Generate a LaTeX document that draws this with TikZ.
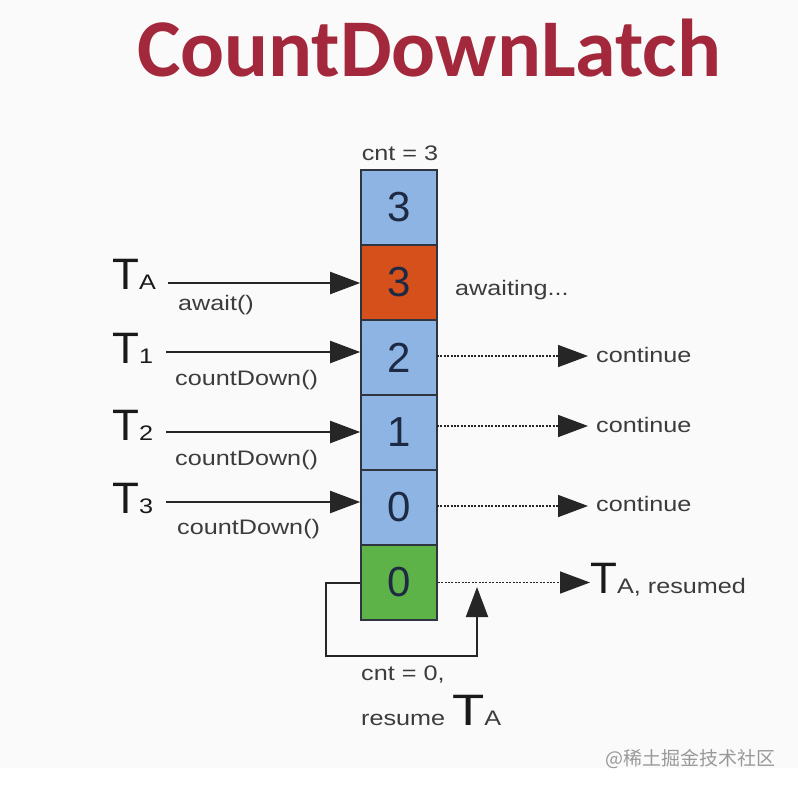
\documentclass[tikz,border=0pt]{standalone}
\usepackage{fontspec}
\setmainfont{Liberation Sans}
\newfontfamily\labfont[FakeStretch=1.2]{Liberation Sans}
\newfontfamily\titlefont{Carlito}
\newfontfamily\cjkfont{Noto Sans CJK SC}
\usetikzlibrary{arrows.meta}
\definecolor{titlered}{HTML}{A3283C}
\definecolor{cellblue}{HTML}{8DB4E2}
\definecolor{cellorange}{HTML}{D5501A}
\definecolor{cellgreen}{HTML}{5DB348}
\definecolor{digitcol}{HTML}{1E2A44}
\definecolor{labcol}{HTML}{3C3C3C}
\definecolor{bordercol}{HTML}{2E3440}
\tikzset{
  cell/.style={draw=bordercol, line width=1.6pt, minimum width=76pt, minimum height=75pt, inner sep=0pt,
    font=\fontsize{42}{42}\selectfont, text=digitcol},
  lab/.style={anchor=base west, inner sep=0pt, text=labcol, font=\labfont\fontsize{21}{21}\selectfont},
  tname/.style={anchor=base west, inner sep=0pt, text=black!90},
  solidarrow/.style={line width=2pt, draw=black!85, -{Triangle[length=30pt,width=22pt]}},
  dotarrow/.style={line width=1.6pt, draw=black!85, dash pattern=on 2pt off 1.4pt, -{Triangle[length=30pt,width=22pt]}},
}
\newcommand{\Tsub}[1]{{\fontsize{44}{44}\selectfont T}{\labfont\fontsize{21}{21}\selectfont #1}}
\begin{document}
\begin{tikzpicture}[x=1pt,y=-1pt]
\useasboundingbox (0,0) rectangle (798,790);
\fill[white] (0,0) rectangle (798,790);
\fill[black!2] (0,0) rectangle (798,768);
% title
\node[inner sep=0pt, anchor=base, text=titlered, font=\titlefont\bfseries\fontsize{82}{82}\selectfont] (title) at (429,76) {CountDownLatch};
% cells
\node[cell, fill=cellblue] (c1) at (399,207.5) {3};
\node[cell, fill=cellorange] (c2) at (399,282.5) {3};
\node[cell, fill=cellblue] (c3) at (399,357.5) {2};
\node[cell, fill=cellblue] (c4) at (399,432.5) {1};
\node[cell, fill=cellblue] (c5) at (399,507.5) {0};
\node[cell, fill=cellgreen] (c6) at (399,582.5) {0};
\node[lab, anchor=base] (cnt3) at (400,160) {cnt = 3};
% threads
\node[tname] (ta) at (112,289) {\Tsub{A}};
\node[tname] (t1) at (112,363) {\Tsub{1}};
\node[tname] (t2) at (112,440) {\Tsub{2}};
\node[tname] (t3) at (112,513) {\Tsub{3}};
\node[lab] (await) at (178,310) {await()};
\node[lab] (cd1) at (175,385) {countDown()};
\node[lab] (cd2) at (175,465) {countDown()};
\node[lab] (cd3) at (177,534) {countDown()};
\coordinate (sa) at (168,283);
\coordinate (s1) at (166,352);
\coordinate (s2) at (166,432);
\coordinate (s3) at (166,502);
\draw[solidarrow] (sa) -- (sa -| c2.west);
\draw[solidarrow] (s1) -- (s1 -| c3.west);
\draw[solidarrow] (s2) -- (s2 -| c4.west);
\draw[solidarrow] (s3) -- (s3 -| c5.west);
% right side
\node[lab] (awaiting) at (455,295) {awaiting...};
\node[lab] (cont1) at (596,362) {continue};
\node[lab] (cont2) at (596,432) {continue};
\node[lab] (cont3) at (596,511) {continue};
\coordinate (r1) at (437,356);
\coordinate (r2) at (437,426);
\coordinate (r3) at (437,506);
\draw[dotarrow] (r1) -- ([xshift=-8pt]r1 -| cont1.west);
\draw[dotarrow] (r2) -- ([xshift=-8pt]r2 -| cont2.west);
\draw[dotarrow] (r3) -- ([xshift=-8pt]r3 -| cont3.west);
\node[tname] (tares) at (590,593) {{\fontsize{44}{44}\selectfont T}{\labfont\fontsize{21}{21}\selectfont\color{labcol}A, resumed}};
\draw[dotarrow] (c6.east) -- (c6.east -| tares.west);
% loop
\coordinate (lbot) at (477,656);
\coordinate (uptip) at (477,587);
\draw[solidarrow] (c6.west) -- ++(-34,0) |- (lbot) -- (uptip);
\node[lab] (cnt0) at (361,680) {cnt = 0,};
\node[lab] (resume) at (361,725) {resume {\color{black!90}\fontsize{44}{44}\selectfont T}{\fontsize{21}{21}\selectfont A}};
% watermark
\node[anchor=base east, inner sep=0pt, text=black!40, font=\cjkfont\fontsize{19}{19}\selectfont] (wm) at (776,765) {@稀土掘金技术社区};
\end{tikzpicture}
\end{document}
